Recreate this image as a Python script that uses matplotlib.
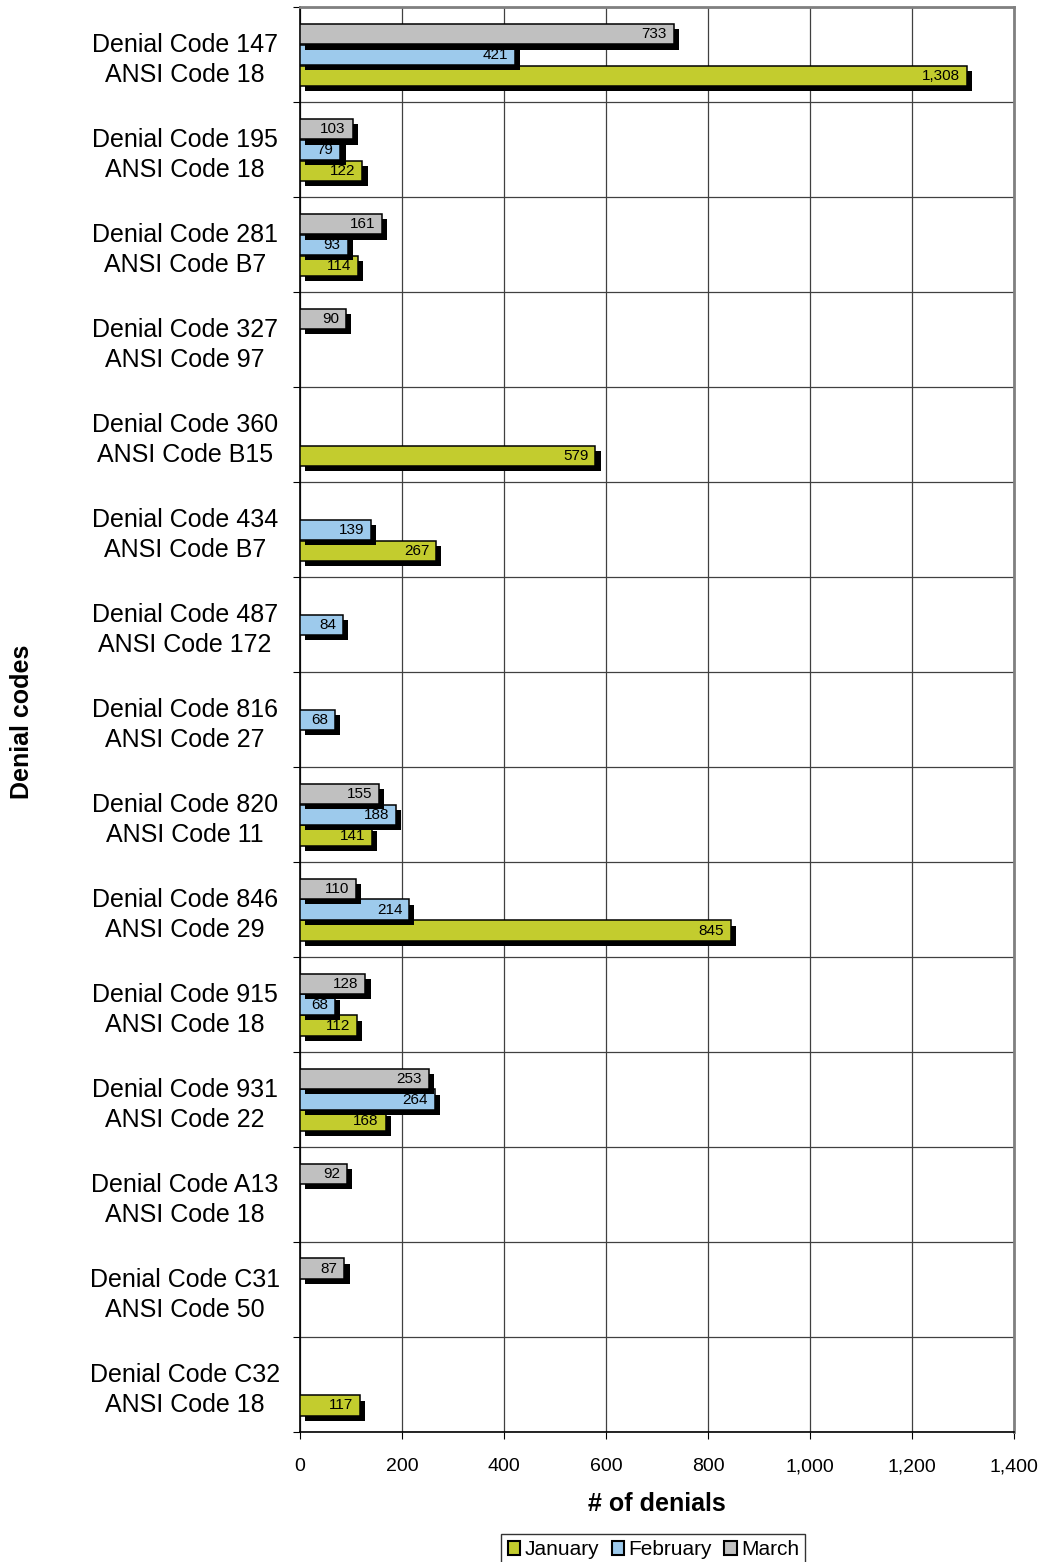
import numpy as np
import matplotlib
matplotlib.use('Agg')
import matplotlib.pyplot as plt
import matplotlib.patheffects as pe
from matplotlib.patches import Patch

plt.rcParams['font.family'] = ['Liberation Sans', 'DejaVu Sans']

# ------------------------------------------------------------
# 数据：每个拒付代码在三个月中的拒付数量（None = 无记录）
# ------------------------------------------------------------
categories = [
    'Denial Code 147\nANSI Code 18',
    'Denial Code 195\nANSI Code 18',
    'Denial Code 281\nANSI Code B7',
    'Denial Code 327\nANSI Code 97',
    'Denial Code 360\nANSI Code B15',
    'Denial Code 434\nANSI Code B7',
    'Denial Code 487\nANSI Code 172',
    'Denial Code 816\nANSI Code 27',
    'Denial Code 820\nANSI Code 11',
    'Denial Code 846\nANSI Code 29',
    'Denial Code 915\nANSI Code 18',
    'Denial Code 931\nANSI Code 22',
    'Denial Code A13\nANSI Code 18',
    'Denial Code C31\nANSI Code 50',
    'Denial Code C32\nANSI Code 18',
]
january = [1308, 122, 114, None, 579, 267, None, None, 141, 845, 112, 168, None, None, 117]
february = [421, 79, 93, None, None, 139, 84, 68, 188, 214, 68, 264, None, None, None]
march = [733, 103, 161, 90, None, None, None, None, 155, 110, 128, 253, 92, 87, None]

series = [
    ('January', january, '#C3CC2E', 0.22),
    ('February', february, '#9DCAEC', 0.0),
    ('March', march, '#C0C0C0', -0.22),
]

fig = plt.figure(figsize=(10.42, 15.62), dpi=100)
ax = fig.add_axes([0.288, 0.0832, 0.685, 0.912])

n = len(categories)
idx = np.arange(n)
bar_h = 0.215
shadow = [pe.SimplePatchShadow(offset=(3.8, -3.8), shadow_rgbFace='black', alpha=1.0), pe.Normal()]

for name, vals, color, off in series:
    for i, v in enumerate(vals):
        if v is None:
            continue
        b = ax.barh(i + off, v, height=bar_h, color=color, edgecolor='black',
                    linewidth=1.1, zorder=3)
        b[0].set_path_effects(shadow)
        ax.annotate(f'{v:,}', xy=(v, i + off), xytext=(-5, 0),
                    textcoords='offset points', ha='right', va='center',
                    fontsize=11, color='black', zorder=4)

ax.set_xlim(0, 1400)
ax.set_ylim(n - 0.5, -0.5)
ax.set_xticks(np.arange(0, 1401, 200))
ax.set_xticklabels([f'{t:,}' for t in range(0, 1401, 200)], fontsize=14)
ax.tick_params(axis='x', length=5, pad=14, color='black')

# 类别标签放在刻度中间，刻度线放在分隔处
ax.set_yticks(np.arange(-0.5, n, 1.0))
ax.set_yticklabels([])
ax.set_yticks(idx, minor=True)
ax.set_yticklabels(categories, minor=True, fontsize=18, ha='center',
                   linespacing=1.3)
ax.tick_params(axis='y', which='minor', length=0, pad=83)
ax.tick_params(axis='y', which='major', length=5, color='black')

ax.grid(axis='x', color='#404040', linewidth=0.9, zorder=0)
ax.grid(axis='y', which='major', color='#404040', linewidth=0.9, zorder=0)

for s in ['top', 'right']:
    ax.spines[s].set_color('#808080')
    ax.spines[s].set_linewidth(2)
for s in ['left', 'bottom']:
    ax.spines[s].set_color('black')
    ax.spines[s].set_linewidth(1.2)

ax.set_xlabel('# of denials', fontsize=18, fontweight='bold', labelpad=12)
fig.text(0.021, 0.538, 'Denial codes', rotation=90, fontsize=18,
         fontweight='bold', ha='center', va='center')

handles = [Patch(facecolor=c, edgecolor='black', linewidth=1.5, label=nm)
           for nm, _, c, _ in series]
leg = fig.legend(handles=handles, loc='lower center', bbox_to_anchor=(0.627, -0.009),
                 ncol=3, fontsize=15, frameon=True, fancybox=False,
                 handlelength=0.6, handleheight=0.6, handletextpad=0.2,
                 columnspacing=0.6, borderpad=0.3)
leg.get_frame().set_edgecolor('black')
leg.get_frame().set_linewidth(1.0)

fig.savefig('out.png', dpi=100)
